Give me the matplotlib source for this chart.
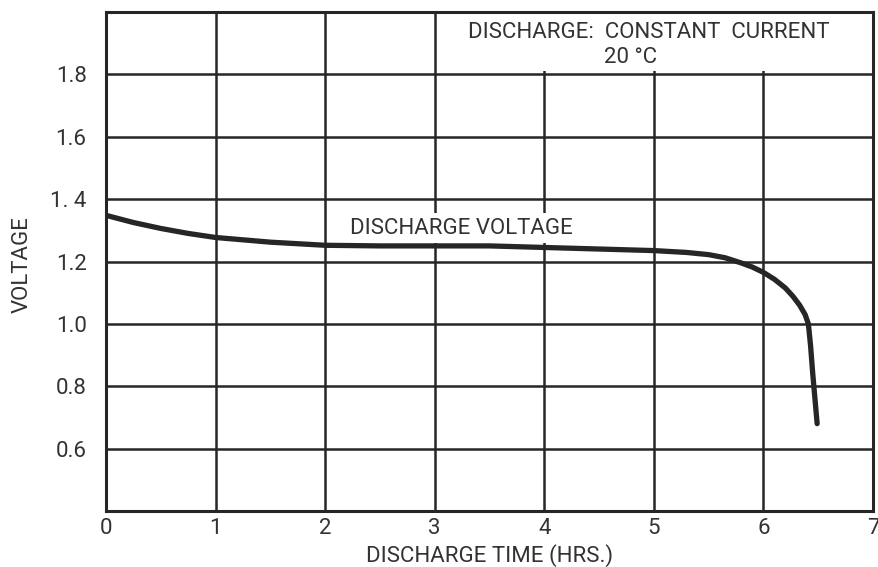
import matplotlib.pyplot as plt
from matplotlib.patches import Rectangle

# discharge curve
hours = [0, 0.25, 0.5, 0.75, 1, 1.5, 2, 2.5, 3, 3.5, 4, 4.5, 5, 5.3, 5.5,
         5.65, 5.8, 5.9, 6.0, 6.1, 6.2, 6.27, 6.33, 6.38, 6.41, 6.43, 6.45,
         6.47, 6.49]
volts = [1.348, 1.325, 1.306, 1.29, 1.277, 1.262, 1.252, 1.250, 1.250,
         1.250, 1.245, 1.240, 1.235, 1.229, 1.222, 1.212, 1.195, 1.182,
         1.165, 1.143, 1.115, 1.088, 1.06, 1.03, 1.00, 0.93, 0.84, 0.76,
         0.68]

x_ticks = [0, 1, 2, 3, 4, 5, 6, 7]
y_ticks = [0.4, 0.6, 0.8, 1.0, 1.2, 1.4, 1.6, 1.8, 2.0]
y_labels = ["", "0.6", "0.8", "1.0", "1.2", "1. 4", "1.6", "1.8", ""]

INK = "#262626"
TXT = "#333333"
FS = 16

plt.rcParams['font.family'] = ['Roboto', 'DejaVu Sans']

fig = plt.figure(figsize=(8.79, 5.67), dpi=100)
ax = fig.add_axes([0.1206, 0.0988, 0.8726, 0.88])

ax.set_xlim(0, 7)
ax.set_ylim(0.4, 2.0)
ax.set_xticks(x_ticks)
ax.set_yticks(y_ticks)
ax.set_yticklabels(y_labels)
ax.tick_params(length=0, labelsize=FS, colors=TXT)
ax.tick_params(axis='x', pad=5)
ax.tick_params(axis='y', pad=14)

ax.grid(True, color=INK, linewidth=1.8)
ax.set_axisbelow(True)
for s in ax.spines.values():
    s.set_color(INK)
    s.set_linewidth(2.2)

ax.plot(hours, volts, color=INK, linewidth=3.8, solid_capstyle='round',
        solid_joinstyle='round', zorder=4)

# white panel behind the test conditions, hides the grid there
ax.add_patch(Rectangle((3.03, 1.81), 3.92, 0.185, facecolor="white",
                       edgecolor="none", zorder=2))
ax.text(4.95, 1.933, "DISCHARGE:  CONSTANT  CURRENT", ha="center", va="center",
        fontsize=FS, color=TXT, zorder=3)
ax.text(4.79, 1.855, "20 °C", ha="center", va="center",
        fontsize=FS, color=TXT, zorder=3)

ax.text(3.24, 1.307, "DISCHARGE VOLTAGE", ha="center", va="center",
        fontsize=FS, color=TXT, zorder=3,
        bbox=dict(facecolor="white", edgecolor="none", pad=3))

ax.set_xlabel("DISCHARGE TIME (HRS.)", fontsize=FS, color=TXT, labelpad=4)
fig.text(22 / 879, 1 - 265 / 567, "VOLTAGE", rotation=90, ha="center",
         va="center", fontsize=FS, color=TXT)

fig.savefig("out.png", dpi=100)
